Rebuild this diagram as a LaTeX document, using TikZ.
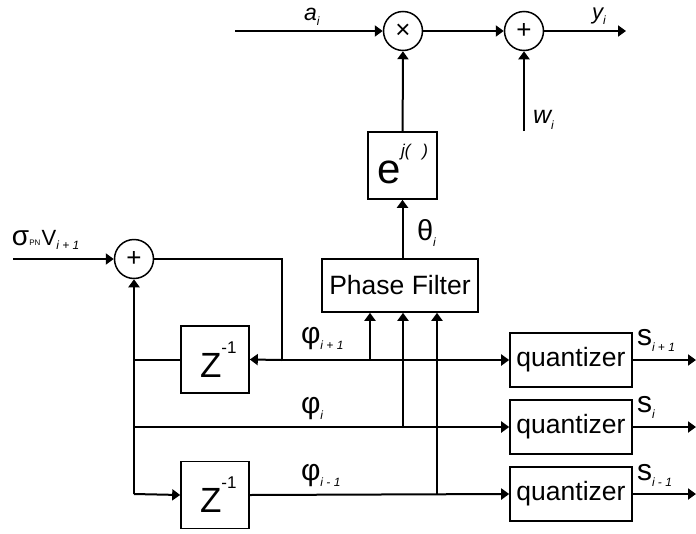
\documentclass[tikz,border=0pt]{standalone}
\usepackage{fontspec}
\setmainfont{Liberation Sans}
\usetikzlibrary{arrows.meta}
\newcommand\fs[1]{\fontsize{#1}{#1}\selectfont}
\newcommand\lsub[2][-7pt]{\raisebox{#1}{\fs{12}\itshape #2}}
\begin{document}
\begin{tikzpicture}[x=1pt,y=-1pt, line width=2pt,
  >={Triangle[length=8pt,width=11pt]},
  circ/.style={circle,draw,line width=1.5pt,minimum size=39pt,inner sep=0pt},
  blk/.style={draw,line width=1.6pt,inner sep=0pt},
  qbox/.style={blk,minimum width=122pt,minimum height=54pt,font=\fs{26.5}},
  zbox/.style={blk,minimum width=68pt,minimum height=67pt},
  lbl/.style={anchor=base west,inner sep=0pt}]
\useasboundingbox (0,0) rectangle (696,533);
% top row
\node[circ] (mul) at (403,31) {\fs{26}×};
\node[circ] (add) at (524,31) {\fs{26}+};
\coordinate (ain) at (235,31);
\coordinate (yout) at (626,31);
\coordinate (win) at (524,131);
\node[lbl] (la) at (303,20) {\fs{23}\itshape a\lsub[-5pt]{i}};
\node[lbl] (ly) at (591,19) {\fs{22}\itshape y\lsub[-5pt]{i}};
\node[lbl] (lw) at (532,123) {\fs{25}\itshape w\lsub[-6pt]{i}};
% exp box
\node[blk,minimum width=69pt,minimum height=67pt] (ebox) at (402.5,165.5) {};
\node[lbl] (et) at (376,183) {\fs{42}e};
\node[lbl] (ej) at (400,156) {\fs{17}\itshape j(\hspace{12pt})};
% phase filter
\node[blk,minimum width=156pt,minimum height=53pt,font=\fs{26.5}] (pf) at (400,285.5) {Phase Filter};
\node[lbl] (lth) at (416,240) {\fs{29}θ\lsub[-6pt]{i}};
% sum
\node[circ] (sum) at (134,259) {\fs{26}+};
\coordinate (sin) at (13,259);
\node[lbl] (lsig) at (11,245) {\fs{28}σ\fs{8}PN\,\fs{22}V\lsub[-4pt]{i + 1}};
% delays
\node[zbox] (z1) at (215,359.5) {};
\node[lbl] (z1t) at (199,377) {\fs{35}Z\raisebox{24pt}{\fs{17}-1}};
\node[zbox] (z2) at (215,495) {};
\node[lbl] (z2t) at (199,512) {\fs{35}Z\raisebox{24pt}{\fs{17}-1}};
% quantizers
\node[qbox] (q1) at (571,360) {quantizer};
\node[qbox] (q2) at (571,427) {quantizer};
\node[qbox] (q3) at (571,494) {quantizer};
\coordinate (o1) at (696,360);
\coordinate (o2) at (696,427);
\coordinate (o3) at (696,494);
\node[lbl] (ls1) at (636,345) {\fs{30}s\lsub[-6pt]{i + 1}};
\node[lbl] (ls2) at (636,412) {\fs{30}s\lsub[-6pt]{i}};
\node[lbl] (ls3) at (636,480) {\fs{30}s\lsub[-6pt]{i - 1}};
% phi labels
\node[lbl] (lp1) at (300,343) {\fs{30}φ\lsub[-6pt]{i + 1}};
\node[lbl] (lp2) at (300,413) {\fs{30}φ\lsub[-6pt]{i}};
\node[lbl] (lp3) at (300,480) {\fs{30}φ\lsub[-6pt]{i - 1}};
% junction coordinates
\coordinate (tap) at (282,360);
\coordinate (bl) at (134,494);
\coordinate (ml) at (134,427);
\coordinate (p1) at (370,360);
\coordinate (p2) at (403,427);
\coordinate (p3) at (437,494);
% connectors
\draw[->] (ain) -- (mul);
\draw[->] (mul) -- (add);
\draw[->] (add) -- (yout);
\draw[->] (win) -- (add);
\draw[->] (ebox) -- (mul);
\draw[->] (pf.north -| ebox.south) -- (ebox.south);
\draw[->] (sin) -- (sum);
\draw (sum.east) -| (tap);
\draw[->] (tap) -- (z1.east);
\draw[->] (tap) -- (q1.west);
\draw (z1.west) -- (z1.west -| bl);
\draw[->] (bl) -- (sum.south);
\draw[->] (bl) -- (z2.west);
\draw[->] (ml) -- (q2.west);
\draw[->] (z2.east) -- (q3.west);
\draw[->] (p1) -- (p1 |- pf.south);
\draw[->] (p2) -- (p2 |- pf.south);
\draw[->] (p3) -- (p3 |- pf.south);
\draw[->] (q1) -- (o1);
\draw[->] (q2) -- (o2);
\draw[->] (q3) -- (o3);
\end{tikzpicture}
\end{document}
